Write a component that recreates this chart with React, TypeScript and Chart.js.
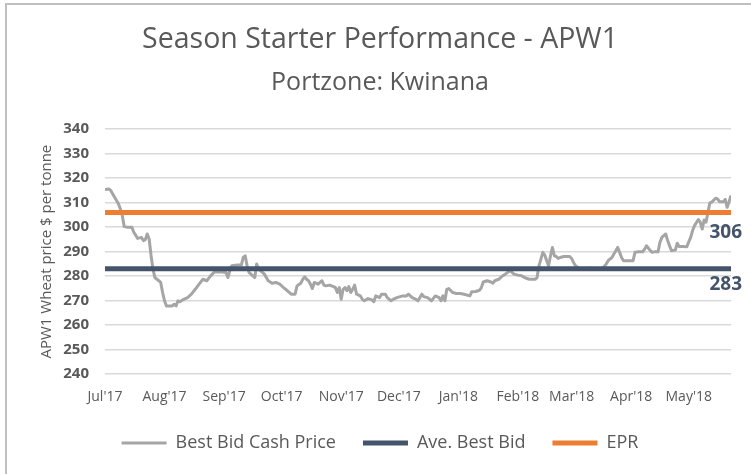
import React, { useEffect, useRef } from 'react';
import { Chart, registerables } from 'chart.js';

Chart.register(...registerables);

// ---------- data ----------
const chartTitle = 'Season Starter Performance - APW1';
const chartSubtitle = 'Portzone: Kwinana';
const yAxisTitle = 'APW1 Wheat price $ per tonne';
const seriesNames = ['Best Bid Cash Price', 'Ave. Best Bid', 'EPR'];

// x axis: days since 1 Jul 2017
const monthStartDays = [0, 31, 62, 92, 123, 153, 184, 215, 243, 274, 304];
const monthLabels = ["Jul'17", "Aug'17", "Sep'17", "Oct'17", "Nov'17", "Dec'17", "Jan'18", "Feb'18", "Mar'18", "Apr'18", "May'18"];
const firstDay = 0;
const lastDay = 326;

const yMin = 240;
const yMax = 340;
const yStep = 10;

const bidDays = [
  0, 2, 3, 5, 7, 8, 9, 10, 12, 14, 15, 17, 19, 20, 21, 22, 23, 24, 25, 26, 28, 29, 30, 31, 32, 35, 36, 37, 38, 39,
  41, 43, 45, 47, 49, 51, 53, 55, 57, 59, 61, 63, 64, 65, 66, 69, 71, 72, 73, 74, 75, 77, 78, 79, 80, 82, 83, 85, 87, 89,
  91, 93, 95, 97, 99, 100, 102, 103, 104, 105, 106, 107, 108, 109, 111, 112, 113, 114, 115, 117, 119, 120, 121, 122, 123, 124, 125, 126, 127, 128,
  129, 130, 131, 133, 134, 135, 137, 139, 140, 141, 143, 144, 146, 147, 149, 150, 152, 155, 157, 158, 160, 162, 163, 165, 166, 168, 170, 172, 174, 175,
  176, 177, 178, 179, 181, 183, 185, 187, 190, 191, 193, 195, 196, 197, 199, 201, 202, 203, 205, 207, 208, 210, 211, 213, 215, 217, 219, 221, 224, 225,
  226, 227, 228, 229, 230, 231, 232, 233, 234, 235, 236, 237, 239, 242, 243, 244, 245, 247, 250, 253, 256, 259, 261, 262, 264, 265, 267, 268, 269, 270,
  272, 275, 276, 278, 280, 281, 282, 284, 285, 286, 288, 289, 290, 292, 293, 294, 295, 297, 298, 299, 301, 303, 304, 305, 306, 307, 309, 310, 311, 312,
  313, 314, 315, 316, 318, 319, 320, 322, 323, 324, 325, 326,
];
const bidPrices = [
  315.4, 315.6, 315.0, 312.2, 309.5, 307.4, 304.7, 300.2, 299.9, 299.9, 297.9, 295.4, 295.8, 294.5, 294.9, 297.2, 295.1, 288.3, 282.8, 279.4, 278.1, 277.4, 273.3, 269.9, 267.8, 267.8, 268.5, 267.8, 269.9, 269.5,
  270.5, 271.2, 272.6, 274.6, 276.7, 278.7, 278.1, 280.1, 281.7, 281.7, 281.7, 281.5, 279.4, 282.2, 284.2, 284.5, 284.5, 287.6, 288.3, 284.2, 281.5, 280.1, 279.4, 284.9, 282.8, 281.5, 280.8, 278.1, 277.1, 277.4,
  276.7, 275.3, 274.0, 272.6, 272.6, 276.0, 277.1, 278.7, 279.7, 278.7, 278.1, 276.7, 274.9, 277.4, 276.7, 277.4, 278.1, 276.3, 276.0, 276.3, 275.7, 275.3, 273.3, 275.3, 270.5, 274.6, 275.3, 274.0, 275.7, 273.3,
  274.6, 276.3, 272.6, 271.9, 270.5, 269.9, 270.8, 270.3, 269.5, 271.9, 271.2, 272.6, 272.6, 271.2, 269.9, 270.5, 271.2, 271.9, 271.9, 272.6, 271.2, 270.5, 269.9, 272.6, 271.6, 271.2, 269.9, 271.9, 271.2, 269.9,
  271.9, 269.9, 274.6, 274.9, 273.3, 272.9, 272.9, 272.6, 271.9, 273.6, 273.7, 274.2, 275.3, 277.6, 278.1, 277.6, 277.1, 278.1, 278.7, 280.1, 280.5, 281.7, 282.2, 280.8, 280.4, 280.1, 279.2, 278.7, 278.7, 279.4,
  284.2, 286.9, 289.7, 288.6, 286.3, 284.2, 288.3, 291.7, 288.3, 288.0, 287.2, 287.6, 288.0, 288.0, 287.2, 285.6, 284.2, 283.0, 283.0, 283.2, 283.0, 283.0, 284.9, 286.3, 287.6, 289.0, 291.7, 289.7, 287.6, 286.3,
  286.3, 286.3, 289.7, 289.9, 289.9, 291.0, 292.4, 290.4, 289.7, 289.9, 289.9, 293.8, 295.8, 297.2, 294.5, 292.4, 290.4, 290.6, 293.4, 292.1, 292.1, 292.0, 294.0, 295.8, 298.6, 300.6, 303.1, 302.0, 299.2, 302.9,
  302.0, 306.1, 309.9, 310.2, 311.8, 311.5, 310.4, 310.4, 311.3, 308.1, 310.4, 312.9,
];
const aveBestBid = 283;
const epr = 306;

// ---------- styles ----------
const FONT = '"Open Sans"';
const TEXT = '#595959';
const GRAY = '#A5A5A5';
const NAVY = '#44546A';
const ORANGE = '#ED7D31';

const refLabelPlugin = {
  id: 'refLabels',
  afterDatasetsDraw(chart: any) {
    const { ctx, chartArea, scales } = chart;
    const items = [
      { value: epr, dy: 20 },
      { value: aveBestBid, dy: 16 },
    ];
    ctx.save();
    ctx.font = `bold 19px ${FONT}`;
    ctx.fillStyle = NAVY;
    ctx.textAlign = 'right';
    ctx.textBaseline = 'middle';
    items.forEach((it) => {
      ctx.fillText(String(it.value), chartArea.right + 11, scales.y.getPixelForValue(it.value) + it.dy);
    });
    ctx.restore();
  },
};

export default function App() {
  const ref = useRef<HTMLCanvasElement>(null);

  useEffect(() => {
    const bidData = bidDays.map((d, i) => ({ x: d, y: bidPrices[i] }));
    const aveData = [{ x: firstDay, y: aveBestBid }, { x: lastDay, y: aveBestBid }];
    const eprData = [{ x: firstDay, y: epr }, { x: lastDay, y: epr }];

    const chart = new Chart(ref.current as HTMLCanvasElement, {
      type: 'line',
      data: {
        datasets: [
          {
            label: seriesNames[0],
            data: bidData,
            borderColor: GRAY,
            backgroundColor: GRAY,
            borderWidth: 3,
            pointRadius: 0,
            borderJoinStyle: 'round',
            borderCapStyle: 'butt',
            order: 3,
          },
          {
            label: seriesNames[1],
            data: aveData,
            borderColor: NAVY,
            backgroundColor: NAVY,
            borderWidth: 5,
            pointRadius: 0,
            borderCapStyle: 'round',
            order: 2,
          },
          {
            label: seriesNames[2],
            data: eprData,
            borderColor: ORANGE,
            backgroundColor: ORANGE,
            borderWidth: 5,
            pointRadius: 0,
            borderCapStyle: 'round',
            order: 1,
          },
        ],
      } as any,
      options: {
        animation: false,
        responsive: false,
        devicePixelRatio: 1,
        layout: { padding: { left: 29, right: 20, top: 0, bottom: 12 } },
        scales: {
          x: {
            type: 'linear',
            min: firstDay,
            max: lastDay,
            grid: { display: false, drawTicks: false },
            border: { display: false },
            afterBuildTicks: (scale: any) => {
              scale.ticks = monthStartDays.map((v) => ({ value: v }));
            },
            afterFit: (scale: any) => {
              scale.height = 33;
            },
            ticks: {
              autoSkip: false,
              maxRotation: 0,
              padding: 15,
              color: TEXT,
              font: { family: FONT, size: 14 },
              callback: (_v: any, i: number) => monthLabels[i],
            },
          },
          y: {
            min: yMin,
            max: yMax,
            grid: { color: '#D9D9D9', lineWidth: 1.5, drawTicks: false },
            border: { display: false },
            afterFit: (scale: any) => {
              scale.width = 76;
            },
            ticks: {
              stepSize: yStep,
              padding: 16,
              color: TEXT,
              font: { family: FONT, size: 15, weight: 'bold' },
            },
            title: {
              display: true,
              text: yAxisTitle,
              color: TEXT,
              font: { family: FONT, size: 15 },
              padding: { top: 9, bottom: 0 },
            },
          },
        },
        plugins: {
          tooltip: { enabled: false },
          title: {
            display: true,
            text: chartTitle,
            color: TEXT,
            font: { family: FONT, size: 28.5, weight: 'normal' },
            padding: { top: 23, bottom: 0 },
          },
          subtitle: {
            display: true,
            text: chartSubtitle,
            color: TEXT,
            font: { family: FONT, size: 25, weight: 'normal' },
            padding: { top: 11, bottom: 31 },
          },
          legend: {
            display: true,
            position: 'bottom',
            labels: {
              usePointStyle: true,
              pointStyle: 'line',
              pointStyleWidth: 45,
              padding: 27,
              color: TEXT,
              font: { family: FONT, size: 18 },
              sort: (a: any, b: any) => a.datasetIndex - b.datasetIndex,
            },
          },
        },
      } as any,
      plugins: [refLabelPlugin],
    });
    return () => chart.destroy();
  }, []);

  return (
    <div style={{ position: 'fixed', left: 0, top: 0, width: 751, height: 474, background: '#fff', overflow: 'hidden' }}>
      <div
        style={{
          position: 'absolute',
          left: 5,
          top: 3,
          right: -10,
          bottom: -10,
          borderTop: '2px solid #BFBFBF',
          borderLeft: '2px solid #BFBFBF',
        }}
      />
      <canvas ref={ref} width={751} height={474} style={{ position: 'absolute', left: 0, top: 0, width: 751, height: 474 }} />
    </div>
  );
}
